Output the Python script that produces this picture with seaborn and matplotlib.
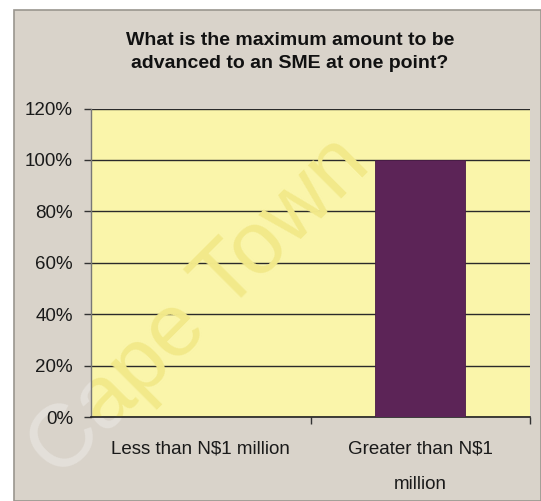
import matplotlib
matplotlib.use("Agg")
import matplotlib.pyplot as plt
import seaborn as sns
import pandas as pd
from matplotlib.patches import Rectangle
from matplotlib.ticker import FixedLocator, FuncFormatter

categories = ["Less than N$1 million", "Greater than N$1\nmillion"]
values = [0, 100]
yticks = [0, 20, 40, 60, 80, 100, 120]
title = "What is the maximum amount to be\nadvanced to an SME at one point?"

sns.set_style("white")
plt.rcParams["font.family"] = ["Liberation Sans", "DejaVu Sans"]

df = pd.DataFrame({"cat": categories, "val": values})

fig = plt.figure(figsize=(5.41, 5.01), dpi=100, facecolor="white")

# frame background
bg = Rectangle((14 / 541, 0), 1 - 14 / 541, 1 - 10 / 501, transform=fig.transFigure,
               facecolor="#d9d3ca", edgecolor="#9a968f", linewidth=1.2, zorder=-5)
fig.patches.append(bg)

ax = fig.add_axes([91 / 541, 1 - 417 / 501, (530 - 91) / 541, (417 - 108.5) / 501])
ax.set_facecolor("#faf5aa")

sns.barplot(data=df, x="cat", y="val", color="#5c2457", width=0.41, ax=ax,
            saturation=1, edgecolor="#4a1c46", linewidth=0.6, zorder=3)

ax.set_ylim(0, 120)
ax.set_xlim(-0.5, 1.5)
ax.yaxis.set_major_locator(FixedLocator(yticks))
ax.yaxis.set_major_formatter(FuncFormatter(lambda v, p: f"{int(v)}%"))
ax.grid(axis="y", color="#2a2a2a", linewidth=1.0, zorder=1)
ax.set_axisbelow(True)

for s in ["top", "right"]:
    ax.spines[s].set_visible(False)
ax.spines["left"].set_color("#777777")
ax.spines["left"].set_linewidth(1.0)
ax.spines["bottom"].set_color("#222222")
ax.spines["bottom"].set_linewidth(1.2)

ax.set_xlabel("")
ax.set_ylabel("")
ax.tick_params(axis="y", which="major", direction="out", length=5, width=1,
               color="#333333", pad=8, labelsize=13.5, labelcolor="#1a1a1a", left=True)
ax.tick_params(axis="x", which="major", length=0, pad=17, labelsize=13.5,
               labelcolor="#1a1a1a")
ax.xaxis.set_minor_locator(FixedLocator([0.5, 1.5]))
ax.tick_params(axis="x", which="minor", direction="out", length=5, width=1,
               color="#333333", bottom=True)
for lab in ax.get_xticklabels():
    lab.set_linespacing(2.4)
    lab.set_verticalalignment("top")

fig.text(290 / 541, 1 - 52 / 501, title, ha="center", va="center",
         fontsize=14, fontweight="bold", color="#111111", linespacing=1.45)

# watermark: grey outside the plot area, yellow inside
wm_pos = (200 / 541, 1 - 308 / 501)
fig.text(*wm_pos, "Cape Town", rotation=45, ha="center", va="center",
         fontsize=64, color="#e4e0da", zorder=-1, rotation_mode="anchor")
ax.text(*wm_pos, "Cape Town", rotation=45, ha="center", va="center",
        fontsize=64, color="#f2e98a", transform=fig.transFigure, clip_on=True,
        zorder=2, rotation_mode="anchor")

fig.savefig("out.png", dpi=100, facecolor="white")
